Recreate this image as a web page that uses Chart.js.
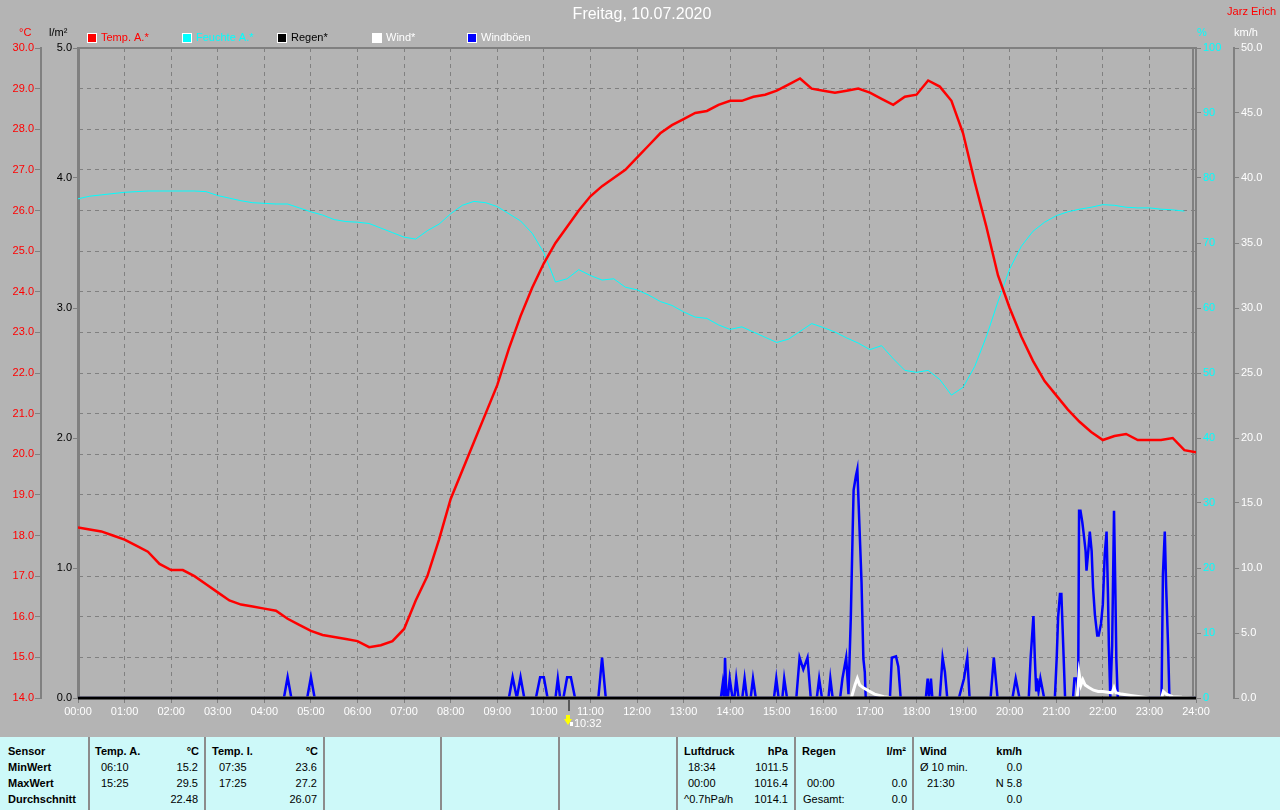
<!DOCTYPE html>
<html><head><meta charset="utf-8">
<script src="https://cdn.jsdelivr.net/npm/chart.js@4.4.1/dist/chart.umd.min.js"></script>
<style>
html,body{margin:0;padding:0;background:#b4b4b4;width:1280px;height:810px;overflow:hidden;font-family:"Liberation Sans",Arial,sans-serif;}
#wrap{position:absolute;left:0;top:0;width:1280px;height:737px;}
#tbl{position:absolute;left:0;top:737px;width:1280px;height:73px;background:#cdf9f9;}
.c{position:absolute;font-size:11px;color:#000;white-space:nowrap;line-height:13px;}
.b{font-weight:bold;}
.v{position:absolute;top:0;width:2px;height:73px;background:#8c8c8c;}
</style></head><body>
<div id="wrap"><canvas id="c" width="1280" height="737"></canvas></div>
<div id="tbl"></div>
<script>
// ---------- DATA ----------
const quarterHours = [0,0.25,0.5,0.75,1,1.25,1.5,1.75,2,2.25,2.5,2.75,3,3.25,3.5,3.75,4,4.25,4.5,4.75,5,5.25,5.5,5.75,6,6.25,6.5,6.75,7,7.25,7.5,7.75,8,8.25,8.5,8.75,9,9.25,9.5,9.75,10,10.25,10.5,10.75,11,11.25,11.5,11.75,12,12.25,12.5,12.75,13,13.25,13.5,13.75,14,14.25,14.5,14.75,15,15.25,15.5,15.75,16,16.25,16.5,16.75,17,17.25,17.5,17.75,18,18.25,18.5,18.75,19,19.25,19.5,19.75,20,20.25,20.5,20.75,21,21.25,21.5,21.75,22,22.25,22.5,22.75,23,23.25,23.5,23.75,24];
const tempA = [18.2,18.15,18.1,18.0,17.9,17.75,17.6,17.3,17.15,17.15,17.0,16.8,16.6,16.4,16.3,16.25,16.2,16.15,15.95,15.8,15.65,15.55,15.5,15.45,15.4,15.25,15.3,15.4,15.7,16.4,17.0,17.9,18.9,19.6,20.3,21.0,21.7,22.6,23.4,24.1,24.7,25.2,25.6,26.0,26.35,26.6,26.8,27.0,27.3,27.6,27.9,28.1,28.25,28.4,28.45,28.6,28.7,28.7,28.8,28.85,28.95,29.1,29.25,29.0,28.95,28.9,28.95,29.0,28.9,28.75,28.6,28.8,28.85,29.2,29.05,28.7,27.9,26.7,25.6,24.4,23.6,22.9,22.3,21.8,21.45,21.1,20.8,20.55,20.35,20.45,20.5,20.35,20.35,20.35,20.4,20.1,20.05];
const humA = [76.8,77.2,77.4,77.6,77.8,77.9,78.0,78.0,78.0,78.0,78.0,77.9,77.3,76.9,76.5,76.2,76.1,76.0,76.0,75.4,74.8,74.3,73.6,73.3,73.2,73.0,72.3,71.6,70.9,70.6,71.9,72.9,74.5,75.8,76.4,76.2,75.6,74.5,73.4,71.5,68.5,64.0,64.5,65.9,65.0,64.3,64.5,63.2,62.8,62.0,61.0,60.4,59.4,58.6,58.4,57.4,56.7,57.1,56.3,55.5,54.7,55.2,56.4,57.6,57.0,56.3,55.4,54.6,53.6,54.2,52.2,50.4,50.1,50.4,49.0,46.6,47.8,51.0,55.6,61.0,66.0,69.5,71.8,73.2,74.2,74.8,75.2,75.5,75.9,75.8,75.5,75.4,75.4,75.2,75.1,74.9,null];
const rainTimes = [0,24];
const rainVals = [0,0];
const gustTimes = [0,4.42,4.5,4.58,4.92,5.0,5.08,9.25,9.33,9.42,9.5,9.58,9.83,9.92,10.0,10.08,10.25,10.3,10.35,10.42,10.5,10.58,10.67,11.17,11.25,11.33,
 13.8,13.84,13.87,13.89,13.92,13.95,13.99,14.05,14.09,14.13,14.18,14.26,14.31,14.36,14.44,14.49,14.55,14.94,14.99,15.04,15.12,15.16,15.22,15.42,15.49,15.57,15.66,15.73,15.86,15.91,15.97,16.11,16.15,16.2,16.36,16.41,16.49,16.54,16.59,16.63,16.65,16.7,16.73,16.76,16.79,16.82,16.84,16.86,16.89,16.91,
 17.43,17.47,17.56,17.61,17.66,18.2,18.24,18.27,18.31,18.34,18.5,18.56,18.61,18.66,18.91,19.02,19.09,19.14,19.59,19.66,19.74,20.06,20.13,20.21,
 20.41,20.45,20.51,20.54,20.57,20.59,20.62,20.66,20.74,20.97,21.01,21.04,21.08,21.11,21.15,21.19,
 21.36,21.39,21.44,21.47,21.49,21.52,21.56,21.59,21.63,21.65,21.69,21.72,21.76,21.79,21.83,21.88,21.91,21.96,22.0,22.04,22.08,22.11,22.13,22.16,22.2,22.24,22.27,22.29,22.32,
 23.26,23.29,23.33,23.36,23.4,23.43,24];
const gustVals = [0,0,1.6,0,0,1.6,0,0,1.6,0,1.6,0,0,1.6,1.6,0,0,1.5,0,0,1.6,1.6,0,0,3.1,0,
 0,1.1,0,3.1,0,0,1.5,0,0,1.5,0,0,1.5,0,0,1.5,0,0,1.5,0,0,1.5,0,0,3.1,2.2,3.1,0,0,1.5,0,0,1.5,0,0,1.5,3.1,0.3,6.2,12.9,16.0,17.1,17.6,14.7,11.8,8.9,5.9,3.0,2.0,0,
 0,3.1,3.2,2.4,0,0,1.5,0,1.5,0,0,3.1,2.0,0,0,1.5,3.1,0,0,3.1,0,0,1.5,0,
 0,3.1,6.3,3.1,0.5,1.5,0.5,1.5,0,0,3.1,6.2,8.0,8.0,4.0,0,
 0,1.5,1.5,0,14.4,14.4,13.5,12.6,11.3,9.8,11.4,12.8,11.3,8.5,6.4,4.8,4.8,5.7,7.2,11.0,12.8,8.0,4.0,0,4.0,14.4,8.0,3.0,0,
 0,9.5,12.8,8.5,4.1,0,0];
const windTimes = [0,16.6,16.68,16.73,16.78,16.85,16.95,17.1,17.3,17.5,21.45,21.49,21.53,21.57,21.62,21.7,21.8,21.9,22.0,22.1,22.2,22.24,22.28,22.4,22.6,22.8,23.0,23.26,23.3,23.36,23.5,23.7,24];
const windVals = [0,0,1.0,1.5,1.0,0.8,0.6,0.3,0.1,0,0,1.9,1.0,1.4,1.0,0.8,0.6,0.5,0.5,0.45,0.4,0.8,0.4,0.3,0.2,0.1,0,0,0.5,0.3,0.1,0.05,0];
const hourLabels = ['00:00','01:00','02:00','03:00','04:00','05:00','06:00','07:00','08:00','09:00','10:00','11:00','12:00','13:00','14:00','15:00','16:00','17:00','18:00','19:00','20:00','21:00','22:00','23:00','24:00'];
const markerTime = 10 + 32/60;
const markerLabel = '10:32';
const seriesNames = ['Temp. A.*','Feuchte A.*','Regen*','Wind*','Windböen'];
const seriesColors = ['#ff0000','#00ffff','#000000','#ffffff','#0000ff'];
const legendTextColors = ['#ff0000','#00ffff','#000000','#ffffff','#ffffff'];

// ---------- CHART ----------
const F = "'Liberation Sans', Arial, sans-serif";
Chart.defaults.font.family = F;
Chart.defaults.font.size = 11;
const pts = (xs, ys) => xs.map((x, i) => ({x: x, y: ys[i]}));
const G = '#808080';

const deco = {
  id: 'deco',
  beforeDraw(chart) {
    const c = chart.ctx; c.save(); c.fillStyle = '#b4b4b4'; c.fillRect(0, 0, chart.width, chart.height); c.restore();
  },
  beforeDatasetsDraw(chart) {
    const c = chart.ctx, a = chart.chartArea;
    c.save();
    c.strokeStyle = G;
    c.lineWidth = 2;
    c.beginPath(); c.moveTo(a.left - 1, a.top); c.lineTo(a.right + 1, a.top); c.stroke();
    c.beginPath(); c.moveTo(a.right - 3, a.top); c.lineTo(a.right - 3, a.bottom); c.stroke();
    c.restore();
  },
  afterDraw(chart) {
    const c = chart.ctx;
    c.save();
    c.textBaseline = 'middle';
    c.font = '16px ' + F; c.fillStyle = '#ffffff'; c.textAlign = 'center';
    c.fillText('Freitag, 10.07.2020', 642, 15);
    c.font = '11px ' + F; c.fillStyle = '#ff0000'; c.textAlign = 'right';
    c.fillText('Jarz Erich', 1276, 12);
    c.textAlign = 'left';
    c.fillStyle = '#ff0000'; c.fillText('°C', 19, 33);
    c.fillStyle = '#000000'; c.fillText('l/m²', 49, 33);
    c.fillStyle = '#00ffff'; c.fillText('%', 1197, 33);
    c.fillStyle = '#ffffff'; c.fillText('km/h', 1234, 33);
    const lx = [87, 182, 277, 372, 467];
    for (let i = 0; i < seriesNames.length; i++) {
      c.fillStyle = seriesColors[i];
      c.fillRect(lx[i], 33, 10, 10);
      c.strokeStyle = '#ffffff'; c.lineWidth = 1;
      c.strokeRect(lx[i] + 0.5, 33.5, 9, 9);
      c.fillStyle = legendTextColors[i];
      c.fillText(seriesNames[i], lx[i] + 14, 38);
    }
    const mx = Math.round(chart.scales.x.getPixelForValue(markerTime));
    c.strokeStyle = '#5a5a5a'; c.lineWidth = 2;
    c.beginPath(); c.moveTo(mx, 699); c.lineTo(mx, 711); c.stroke();
    c.fillStyle = '#ffff00';
    c.beginPath();
    c.moveTo(mx - 3, 715); c.lineTo(mx + 1, 715); c.lineTo(mx + 1, 719); c.lineTo(mx + 3, 719);
    c.lineTo(mx - 1, 725); c.lineTo(mx - 5, 719); c.lineTo(mx - 3, 719); c.closePath(); c.fill();
    c.fillStyle = '#ffffff'; c.fillRect(mx + 1, 722, 3, 4);
    c.fillText(markerLabel, mx + 5, 724);
    c.restore();
  }
};

const hideEnds = (lo, hi) => (ctx) => (ctx.tick && (ctx.tick.value === lo || ctx.tick.value === hi)) ? 'rgba(0,0,0,0)' : G;

new Chart(document.getElementById('c'), {
  type: 'line',
  data: {
    datasets: [
      {label: seriesNames[2], data: pts(rainTimes, rainVals), yAxisID: 'yRain', borderColor: '#000000', borderWidth: 3, order: -1, clip: 4},
      {label: seriesNames[0], data: pts(quarterHours, tempA), yAxisID: 'yTemp', borderColor: '#ff0000', borderWidth: 2.5, order: 1},
      {label: seriesNames[3], data: pts(windTimes, windVals), yAxisID: 'yWind', borderColor: '#ffffff', borderWidth: 3, order: 2},
      {label: seriesNames[1], data: pts(quarterHours, humA), yAxisID: 'yHum', borderColor: '#00ffff', borderWidth: 1, order: 3},
      {label: seriesNames[4], data: pts(gustTimes, gustVals), yAxisID: 'yWind', borderColor: '#0000ff', borderWidth: 2.5, order: 4}
    ]
  },
  options: {
    responsive: false, maintainAspectRatio: false, animation: false,
    devicePixelRatio: 1,
    layout: {padding: {top: 48, left: 0, right: 0, bottom: 0}},
    elements: {point: {radius: 0, hoverRadius: 0}, line: {tension: 0, borderJoinStyle: 'miter'}},
    plugins: {legend: {display: false}, tooltip: {enabled: false}, title: {display: false}},
    events: [],
    scales: {
      x: {
        type: 'linear', position: 'bottom', min: 0, max: 24,
        afterFit: s => { s.height = 39; },
        ticks: {stepSize: 1, autoSkip: false, maxRotation: 0, color: '#ffffff', padding: 2, callback: v => hourLabels[v]},
        grid: {color: hideEnds(0, 24), tickColor: G, tickLength: 5, lineWidth: 1, tickBorderDash: []},
        border: {display: true, color: G, width: 1, dash: [4, 4]}
      },
      yTemp: {
        type: 'linear', position: 'left', weight: 1, min: 14, max: 30,
        afterFit: s => { s.width = 41; },
        ticks: {stepSize: 1, autoSkip: false, color: '#ff0000', padding: 1, callback: v => v.toFixed(1)},
        grid: {color: hideEnds(14, 30), tickColor: G, tickLength: 6, lineWidth: 1, tickBorderDash: []},
        border: {display: true, color: G, width: 2, dash: [4, 4]}
      },
      yRain: {
        type: 'linear', position: 'left', weight: 0, min: 0, max: 5,
        afterFit: s => { s.width = 37; },
        ticks: {stepSize: 1, autoSkip: false, color: '#000000', padding: 1, callback: v => v.toFixed(1)},
        grid: {drawOnChartArea: false, color: G, tickLength: 5},
        border: {display: true, color: G, width: 3}
      },
      yHum: {
        type: 'linear', position: 'right', weight: 0, min: 0, max: 100,
        afterFit: s => { s.width = 38; },
        ticks: {stepSize: 10, autoSkip: false, color: '#00ffff', padding: 2, callback: v => String(v)},
        grid: {drawOnChartArea: false, color: G, tickLength: 5},
        border: {display: true, color: G, width: 2}
      },
      yWind: {
        type: 'linear', position: 'right', weight: 1, min: 0, max: 50,
        afterFit: s => { s.width = 46; },
        ticks: {stepSize: 5, autoSkip: false, color: '#ffffff', padding: 2, callback: v => v.toFixed(1)},
        grid: {drawOnChartArea: false, color: G, tickLength: 5},
        border: {display: true, color: G, width: 2}
      }
    }
  },
  plugins: [deco]
});

// ---------- TABLE ----------
const tbl = document.getElementById('tbl');
[89, 205, 324, 441, 559, 677, 795, 913].forEach(x => {
  const d = document.createElement('div'); d.className = 'v'; d.style.left = (x - 1) + 'px'; tbl.appendChild(d);
});
const cells = [
  ['Sensor',0,'l',8,1],['Temp. A.',0,'l',95,1],['°C',0,'r',199,1],['Temp. I.',0,'l',212,1],['°C',0,'r',318,1],
  ['Luftdruck',0,'l',684,1],['hPa',0,'r',788,1],['Regen',0,'l',802,1],['l/m²',0,'r',906,1],['Wind',0,'l',920,1],['km/h',0,'r',1022,1],
  ['MinWert',1,'l',8,1],['06:10',1,'l',101,0],['15.2',1,'r',198,0],['07:35',1,'l',219,0],['23.6',1,'r',317,0],
  ['18:34',1,'l',688,0],['1011.5',1,'r',788,0],['Ø 10 min.',1,'l',920,0],['0.0',1,'r',1022,0],
  ['MaxWert',2,'l',8,1],['15:25',2,'l',101,0],['29.5',2,'r',198,0],['17:25',2,'l',219,0],['27.2',2,'r',317,0],
  ['00:00',2,'l',688,0],['1016.4',2,'r',788,0],['00:00',2,'l',807,0],['0.0',2,'r',907,0],['21:30',2,'l',927,0],['N 5.8',2,'r',1022,0],
  ['Durchschnitt',3,'l',8,1],['22.48',3,'r',198,0],['26.07',3,'r',317,0],
  ['^0.7hPa/h',3,'l',684,0],['1014.1',3,'r',788,0],['Gesamt:',3,'l',803,0],['0.0',3,'r',907,0],['0.0',3,'r',1022,0]
];
cells.forEach(([t, r, al, x, b]) => {
  const d = document.createElement('div');
  d.className = 'c' + (b ? ' b' : '');
  d.textContent = t;
  d.style.top = (8 + 16 * r) + 'px';
  if (al === 'l') d.style.left = x + 'px'; else d.style.right = (1280 - x) + 'px';
  tbl.appendChild(d);
});
</script>
</body></html>
